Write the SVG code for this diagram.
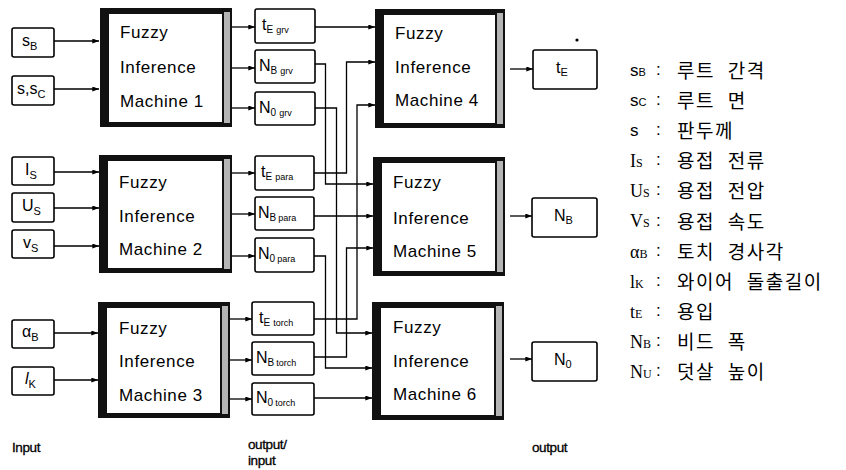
<svg xmlns="http://www.w3.org/2000/svg" width="846" height="470" viewBox="0 0 846 470">
<style>
.bg{fill:#fff}
.ib{fill:#fff;stroke:#000;stroke-width:1.6}
.mo{fill:#111}
.mb{fill:#b5b5b5}
.mi{fill:#fff}
.mt{font-family:"Liberation Sans",Arial,sans-serif;font-size:17px;letter-spacing:0.6px;fill:#000}
.bt{font-family:"Liberation Sans",Arial,sans-serif;font-size:16px;fill:#000}
.st{font-family:"Liberation Sans",Arial,sans-serif;font-size:16px;fill:#000}
.lb{font-family:"Liberation Sans",Arial,sans-serif;font-size:13.5px;letter-spacing:-0.4px;fill:#000;stroke:#000;stroke-width:0.3}
.ls{font-family:"Liberation Sans",Arial,sans-serif;font-size:17px;fill:#000}
.lr{font-family:"Liberation Serif","Times New Roman",serif;font-size:18px;fill:#000}
.kr{font-family:"Noto Sans CJK KR","Noto Sans CJK SC",sans-serif;font-size:19px;letter-spacing:1.5px;word-spacing:7px;fill:#000}
.cn{font-family:"Liberation Sans",Arial,sans-serif;font-size:17px;fill:#000}
.c{fill:none;stroke:#000;stroke-width:1.3}
</style>
<defs>
<marker id="ah" viewBox="0 0 8 6" refX="8" refY="3" markerWidth="7" markerHeight="5" orient="auto" markerUnits="userSpaceOnUse"><path d="M0,0 L8,3 L0,6 z" fill="#000"/></marker>
</defs>
<rect class="bg" x="0" y="0" width="846" height="470"/>

<!-- input boxes -->
<g id="in_sB"><rect class="ib" x="12" y="28" width="42" height="29" rx="2"/><text class="bt" x="22" y="46">s<tspan font-size="11" dy="4">B</tspan></text></g>
<g id="in_ssC"><rect class="ib" x="12" y="76" width="42" height="29" rx="2"/><text class="bt" x="17" y="94">s,s<tspan font-size="11" dy="4">C</tspan></text></g>
<g id="in_Is"><rect class="ib" x="12" y="157" width="42" height="28" rx="2"/><text class="bt" x="25" y="175">I<tspan font-size="11" dy="4">S</tspan></text></g>
<g id="in_Us"><rect class="ib" x="12" y="193" width="42" height="29" rx="2"/><text class="bt" x="22" y="211">U<tspan font-size="11" dy="4">S</tspan></text></g>
<g id="in_vs"><rect class="ib" x="12" y="230" width="42" height="28" rx="2"/><text class="bt" x="23" y="248">v<tspan font-size="11" dy="4">S</tspan></text></g>
<g id="in_aB"><rect class="ib" x="12" y="320" width="42" height="28" rx="2"/><text class="bt" x="22" y="337">α<tspan font-size="11" dy="4">B</tspan></text></g>
<g id="in_lK"><rect class="ib" x="12" y="367" width="42" height="28" rx="2"/><text class="bt" x="25" y="384" font-style="italic">l<tspan font-size="11" dy="4" font-style="normal">K</tspan></text></g>

<!-- machines -->
<g id="m1"><rect class="mo" x="100" y="8" width="132" height="119"/><rect class="mb" x="224" y="12" width="6" height="111"/><rect class="mi" x="109" y="14" width="113" height="108"/>
<text class="mt" x="120" y="38">Fuzzy</text><text class="mt" x="120" y="73">Inference</text><text class="mt" x="120" y="107">Machine 1</text></g>
<g id="m2"><rect class="mo" x="99" y="155" width="133" height="118"/><rect class="mb" x="224" y="159" width="6" height="110"/><rect class="mi" x="108" y="161" width="114" height="107"/>
<text class="mt" x="119" y="188">Fuzzy</text><text class="mt" x="119" y="222">Inference</text><text class="mt" x="119" y="255">Machine 2</text></g>
<g id="m3"><rect class="mo" x="98" y="302" width="132" height="116"/><rect class="mb" x="222" y="306" width="6" height="108"/><rect class="mi" x="107" y="308" width="113" height="105"/>
<text class="mt" x="119" y="334">Fuzzy</text><text class="mt" x="119" y="367">Inference</text><text class="mt" x="119" y="401">Machine 3</text></g>
<g id="m4"><rect class="mo" x="375" y="9" width="130" height="119"/><rect class="mb" x="497" y="13" width="6" height="111"/><rect class="mi" x="384" y="15" width="111" height="108"/>
<text class="mt" x="395" y="39">Fuzzy</text><text class="mt" x="395" y="73">Inference</text><text class="mt" x="395" y="106">Machine 4</text></g>
<g id="m5"><rect class="mo" x="373" y="157" width="132" height="119"/><rect class="mb" x="497" y="161" width="6" height="111"/><rect class="mi" x="382" y="163" width="113" height="108"/>
<text class="mt" x="393" y="188">Fuzzy</text><text class="mt" x="393" y="224">Inference</text><text class="mt" x="393" y="257">Machine 5</text></g>
<g id="m6"><rect class="mo" x="372" y="302" width="132" height="118"/><rect class="mb" x="496" y="306" width="6" height="110"/><rect class="mi" x="381" y="308" width="113" height="107"/>
<text class="mt" x="393" y="333">Fuzzy</text><text class="mt" x="393" y="367">Inference</text><text class="mt" x="393" y="400">Machine 6</text></g>

<!-- intermediate boxes -->
<g id="tE_grv"><rect class="ib" x="255" y="9" width="60" height="34" rx="2"/><text class="st" x="262" y="30">t<tspan font-size="10" dy="3">E</tspan><tspan font-size="9" dx="3">grv</tspan></text></g>
<g id="NB_grv"><rect class="ib" x="255" y="50" width="60" height="33" rx="2"/><text class="st" x="259" y="71">N<tspan font-size="10" dy="3">B</tspan><tspan font-size="9" dx="3">grv</tspan></text></g>
<g id="N0_grv"><rect class="ib" x="255" y="92" width="60" height="33" rx="2"/><text class="st" x="259" y="113">N<tspan font-size="10" dy="3">0</tspan><tspan font-size="9" dx="3">grv</tspan></text></g>
<g id="tE_para"><rect class="ib" x="255" y="156" width="59" height="34" rx="2"/><text class="st" x="261" y="177">t<tspan font-size="10" dy="3">E</tspan><tspan font-size="9" dx="3">para</tspan></text></g>
<g id="NB_para"><rect class="ib" x="255" y="197" width="59" height="33" rx="2"/><text class="st" x="258" y="218">N<tspan font-size="10" dy="3">B</tspan><tspan font-size="9" dx="2">para</tspan></text></g>
<g id="N0_para"><rect class="ib" x="255" y="238" width="59" height="34" rx="2"/><text class="st" x="258" y="259">N<tspan font-size="10" dy="3">0</tspan><tspan font-size="9" dx="2">para</tspan></text></g>
<g id="tE_torch"><rect class="ib" x="252" y="302" width="62" height="33" rx="2"/><text class="st" x="259" y="323">t<tspan font-size="10" dy="3">E</tspan><tspan font-size="9" dx="3">torch</tspan></text></g>
<g id="NB_torch"><rect class="ib" x="252" y="342" width="62" height="33" rx="2"/><text class="st" x="256" y="363">N<tspan font-size="10" dy="3">B</tspan><tspan font-size="9" dx="2">torch</tspan></text></g>
<g id="N0_torch"><rect class="ib" x="252" y="383" width="62" height="32" rx="2"/><text class="st" x="256" y="403">N<tspan font-size="10" dy="3">0</tspan><tspan font-size="9" dx="2">torch</tspan></text></g>

<!-- outputs -->
<g id="out_tE"><rect class="ib" x="533" y="50" width="64" height="39" rx="2"/><text class="bt" x="556" y="73">t<tspan font-size="11" dy="3">E</tspan></text><circle cx="577" cy="40" r="1.6" fill="#000"/></g>
<g id="out_NB"><rect class="ib" x="532" y="198" width="65" height="39" rx="2"/><text class="bt" x="554" y="221">N<tspan font-size="11" dy="3">B</tspan></text></g>
<g id="out_N0"><rect class="ib" x="532" y="342" width="65" height="39" rx="2"/><text class="bt" x="554" y="365">N<tspan font-size="11" dy="3">0</tspan></text></g>

<!-- connectors -->
<g id="connectors">
<path class="c" marker-end="url(#ah)" d="M54,41 H99"/>
<path class="c" marker-end="url(#ah)" d="M54,89 H99"/>
<path class="c" marker-end="url(#ah)" d="M54,172 H99"/>
<path class="c" marker-end="url(#ah)" d="M54,208 H99"/>
<path class="c" marker-end="url(#ah)" d="M54,246 H99"/>
<path class="c" marker-end="url(#ah)" d="M54,333 H98"/>
<path class="c" marker-end="url(#ah)" d="M54,380 H98"/>

<path class="c" marker-end="url(#ah)" d="M232,27 H255"/>
<path class="c" marker-end="url(#ah)" d="M232,68 H255"/>
<path class="c" marker-end="url(#ah)" d="M232,108 H255"/>
<path class="c" marker-end="url(#ah)" d="M232,173 H255"/>
<path class="c" marker-end="url(#ah)" d="M232,214 H255"/>
<path class="c" marker-end="url(#ah)" d="M232,256 H255"/>
<path class="c" marker-end="url(#ah)" d="M230,319 H252"/>
<path class="c" marker-end="url(#ah)" d="M230,360 H252"/>
<path class="c" marker-end="url(#ah)" d="M230,399 H252"/>

<path class="c" marker-end="url(#ah)" d="M315,27 H375"/>
<path class="c" marker-end="url(#ah)" d="M315,64 H325.5 V184 H373"/>
<path class="c" marker-end="url(#ah)" d="M315,108 H336.5 V333 H372"/>
<path class="c" marker-end="url(#ah)" d="M314,173 H346.5 V62 H375"/>
<path class="c" marker-end="url(#ah)" d="M314,216 H373"/>
<path class="c" marker-end="url(#ah)" d="M314,256 H325.5 V368 H372"/>
<path class="c" marker-end="url(#ah)" d="M314,319 H357 V105 H375"/>
<path class="c" marker-end="url(#ah)" d="M314,357 H346.5 V248 H373"/>
<path class="c" marker-end="url(#ah)" d="M314,398 H372"/>

<path class="c" marker-end="url(#ah)" d="M510,69 H533"/>
<path class="c" marker-end="url(#ah)" d="M510,216 H532"/>
<path class="c" marker-end="url(#ah)" d="M510,359 H532"/>
</g>

<!-- bottom labels -->
<text class="lb" x="12" y="452">Input</text>
<text class="lb" x="248" y="449">output/</text>
<text class="lb" x="248" y="465">input</text>
<text class="lb" x="532" y="452">output</text>

<!-- legend -->
<g id="legend">
<text class="ls" x="630" y="76">s<tspan font-size="11">B</tspan></text><text class="cn" x="656" y="75">:</text><text class="kr" x="677" y="78">루트 간격</text>
<text class="ls" x="630" y="106">s<tspan font-size="11">C</tspan></text><text class="cn" x="656" y="105">:</text><text class="kr" x="677" y="108">루트 면</text>
<text class="ls" x="630" y="136">s</text><text class="cn" x="656" y="135">:</text><text class="kr" x="677" y="138">판두께</text>
<text class="lr" x="630" y="167">I<tspan font-size="12">S</tspan></text><text class="cn" x="656" y="165">:</text><text class="kr" x="677" y="168">용접 전류</text>
<text class="lr" x="630" y="197">U<tspan font-size="12">S</tspan></text><text class="cn" x="656" y="195">:</text><text class="kr" x="677" y="198">용접 전압</text>
<text class="lr" x="630" y="227">V<tspan font-size="12">S</tspan></text><text class="cn" x="656" y="226">:</text><text class="kr" x="677" y="229">용접 속도</text>
<text class="lr" x="630" y="258">α<tspan font-size="12">B</tspan></text><text class="cn" x="656" y="256">:</text><text class="kr" x="677" y="259">토치 경사각</text>
<text class="lr" x="630" y="288">l<tspan font-size="12">K</tspan></text><text class="cn" x="656" y="286">:</text><text class="kr" x="677" y="289">와이어 돌출길이</text>
<text class="lr" x="630" y="318">t<tspan font-size="12">E</tspan></text><text class="cn" x="656" y="316">:</text><text class="kr" x="677" y="319">용입</text>
<text class="lr" x="630" y="348">N<tspan font-size="12">B</tspan></text><text class="cn" x="656" y="346">:</text><text class="kr" x="677" y="349">비드 폭</text>
<text class="lr" x="630" y="378">N<tspan font-size="12">U</tspan></text><text class="cn" x="656" y="376">:</text><text class="kr" x="677" y="379">덧살 높이</text>
</g>
</svg>
